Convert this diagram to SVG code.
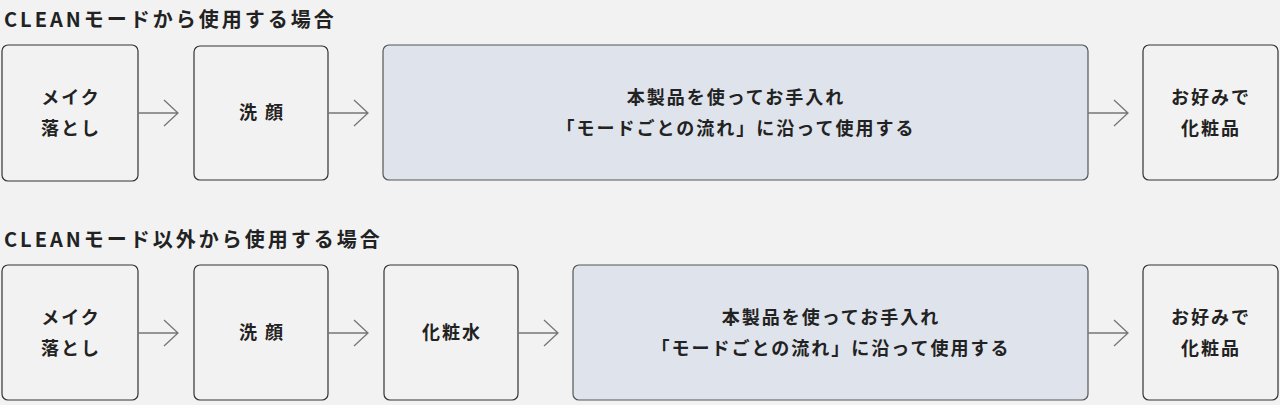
<svg xmlns="http://www.w3.org/2000/svg" width="1280" height="405" viewBox="0 0 1280 405">
<style>
.bg{fill:#f2f2f2}
.box{fill:#f2f2f2;stroke:#333;stroke-width:1.2}
.hl{fill:#dfe3ec;stroke:#555;stroke-width:1.2}
text{font-family:"Noto Sans CJK JP","Noto Sans",sans-serif;font-weight:bold;fill:#222;text-anchor:middle}
.t{font-size:20px;letter-spacing:3px;text-anchor:start}
.l{font-size:18px;letter-spacing:2px}
.c{fill:none;stroke:#777;stroke-width:1.3}
</style>
<rect class="bg" width="1280" height="405"/>
<text class="t" x="4" y="27">CLEANモードから使用する場合</text>
<text class="t" x="4" y="247">CLEANモード以外から使用する場合</text>
<g id="r1n1"><rect class="box" x="2" y="45" width="136" height="136" rx="6"/><text class="l" x="71" y="104">メイク</text><text class="l" x="71" y="135">落とし</text></g>
<g id="r1n2"><rect class="box" x="194" y="46" width="134" height="134" rx="6"/><text class="l" x="262" y="119">洗 顔</text></g>
<g id="r1n3"><rect class="hl" x="383" y="45" width="705" height="135" rx="6"/><text class="l" x="736" y="104">本製品を使ってお手入れ</text><text class="l" x="736" y="135">「モードごとの流れ」に沿って使用する</text></g>
<g id="r1n4"><rect class="box" x="1143" y="45" width="135" height="135" rx="6"/><text class="l" x="1211" y="104">お好みで</text><text class="l" x="1211" y="135">化粧品</text></g>
<g id="r2n1"><rect class="box" x="2" y="265" width="136" height="135" rx="6"/><text class="l" x="71" y="324">メイク</text><text class="l" x="71" y="355">落とし</text></g>
<g id="r2n2"><rect class="box" x="194" y="265" width="134" height="135" rx="6"/><text class="l" x="262" y="339">洗 顔</text></g>
<g id="r2n3"><rect class="box" x="384" y="265" width="134" height="135" rx="6"/><text class="l" x="452" y="339">化粧水</text></g>
<g id="r2n4"><rect class="hl" x="573" y="265" width="515" height="135" rx="6"/><text class="l" x="831" y="324">本製品を使ってお手入れ</text><text class="l" x="831" y="355">「モードごとの流れ」に沿って使用する</text></g>
<g id="r2n5"><rect class="box" x="1143" y="265" width="135" height="135" rx="6"/><text class="l" x="1211" y="324">お好みで</text><text class="l" x="1211" y="355">化粧品</text></g>
<g id="connectors">
<path class="c" d="M138 113H178M164 100L178 113L164 126"/>
<path class="c" d="M328 113H368M354 100L368 113L354 126"/>
<path class="c" d="M1088 113H1128M1114 100L1128 113L1114 126"/>
<path class="c" d="M138 333H178M164 320L178 333L164 346"/>
<path class="c" d="M328 333H368M354 320L368 333L354 346"/>
<path class="c" d="M518 333H558M544 320L558 333L544 346"/>
<path class="c" d="M1088 333H1128M1114 320L1128 333L1114 346"/>
</g>
</svg>
